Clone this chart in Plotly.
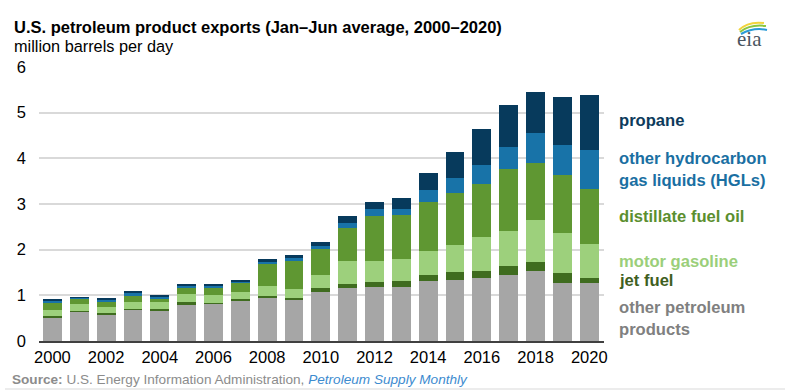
import plotly.graph_objects as go

years = list(range(2000, 2021))
other_petroleum = [0.51, 0.64, 0.59, 0.69, 0.66, 0.79, 0.82, 0.89, 0.95, 0.89, 1.07,
                   1.16, 1.19, 1.18, 1.31, 1.34, 1.37, 1.45, 1.53, 1.26, 1.26]
jet_fuel = [0.03, 0.02, 0.02, 0.02, 0.03, 0.06, 0.02, 0.03, 0.04, 0.06, 0.08,
            0.08, 0.10, 0.14, 0.14, 0.18, 0.17, 0.19, 0.21, 0.22, 0.12]
motor_gasoline = [0.14, 0.15, 0.14, 0.15, 0.16, 0.18, 0.16, 0.15, 0.22, 0.19, 0.30,
                  0.51, 0.46, 0.48, 0.52, 0.59, 0.74, 0.77, 0.91, 0.88, 0.75]
distillate = [0.15, 0.11, 0.11, 0.13, 0.09, 0.15, 0.16, 0.19, 0.47, 0.61, 0.56,
              0.72, 0.99, 0.96, 1.08, 1.13, 1.16, 1.36, 1.24, 1.27, 1.20]
other_hgl = [0.06, 0.03, 0.05, 0.07, 0.04, 0.03, 0.05, 0.05, 0.05, 0.06, 0.06,
             0.12, 0.15, 0.13, 0.26, 0.33, 0.41, 0.48, 0.66, 0.67, 0.85]
propane = [0.02, 0.01, 0.02, 0.02, 0.02, 0.02, 0.02, 0.03, 0.07, 0.07, 0.09,
           0.14, 0.16, 0.24, 0.37, 0.56, 0.79, 0.92, 0.90, 1.04, 1.21]

series_names = ["other petroleum products", "jet fuel", "motor gasoline",
                "distillate fuel oil", "other hydrocarbon gas liquids (HGLs)", "propane"]
series_values = [other_petroleum, jet_fuel, motor_gasoline, distillate, other_hgl, propane]
bar_colors = ["#a6a6a6", "#3f6c1f", "#9dd07c", "#5f9732", "#1873a8", "#073a5c"]

legend_labels = ["other petroleum<br>products", "jet fuel", "motor gasoline",
                 "distillate fuel oil", "other hydrocarbon<br>gas liquids (HGLs)", "propane"]
label_colors = ["#808080", "#3f5f1f", "#9bcf7a", "#5b8f2f", "#1a6fa2", "#0d3b5c"]
label_y = [318.5, 280, 261, 216.5, 169.5, 120.5]  # pixel positions of label centers

FONT = "Liberation Sans, Arial, sans-serif"

fig = go.Figure()
for name, vals, col in zip(series_names, series_values, bar_colors):
    fig.add_trace(go.Bar(x=years, y=vals, name=name, marker_color=col,
                         marker_line_width=0, hoverinfo="x+y+name"))

L, R, T, B = 39, 186, 67, 50
W, H = 790, 391
pw, ph = W - L - R, H - T - B

def px_to_paper(px, py):
    return (px - L) / pw, (H - B - py) / ph

annotations = []
for lab, col, py in zip(legend_labels, label_colors, label_y):
    xp, yp = px_to_paper(617, py)
    annotations.append(dict(text="<b>" + lab + "</b>", x=xp, y=yp, xref="paper", yref="paper",
                            xanchor="left", yanchor="middle", showarrow=False, align="left",
                            font=dict(family=FONT, size=16.6, color=col)))

# title, subtitle
xp, yp = px_to_paper(12, 27)
annotations.append(dict(text="<b>U.S. petroleum product exports (Jan–Jun average, 2000–2020)</b>",
                        x=xp, y=yp, xref="paper", yref="paper", xanchor="left", yanchor="middle",
                        showarrow=False, font=dict(family=FONT, size=16.5, color="#000000")))
xp, yp = px_to_paper(12, 46)
annotations.append(dict(text="million barrels per day",
                        x=xp, y=yp, xref="paper", yref="paper", xanchor="left", yanchor="middle",
                        showarrow=False, font=dict(family=FONT, size=16.3, color="#000000")))
# source
xp, yp = px_to_paper(10, 379)
annotations.append(dict(text="<b>Source:</b> U.S. Energy Information Administration, "
                             "<i><span style='color:#3d8bcf'>Petroleum Supply Monthly</span></i>",
                        x=xp, y=yp, xref="paper", yref="paper", xanchor="left", yanchor="middle",
                        showarrow=False, font=dict(family=FONT, size=13.6, color="#8c8c8c")))
# eia logo text
xp, yp = px_to_paper(749, 39)
annotations.append(dict(text="eia", x=xp, y=yp, xref="paper", yref="paper",
                        xanchor="center", yanchor="middle", showarrow=False,
                        font=dict(family="Liberation Serif, DejaVu Serif, serif", size=21,
                                  color="#4a5560")))

shapes = []
def arc(p0, c, p1, color, w):
    x0, y0 = px_to_paper(*p0)
    xc, yc = px_to_paper(*c)
    x1, y1 = px_to_paper(*p1)
    return dict(type="path", xref="paper", yref="paper",
                path=f"M {x0},{y0} Q {xc},{yc} {x1},{y1}",
                line=dict(color=color, width=w))
shapes.append(arc((739, 30), (748, 21), (764, 23), "#f2d43c", 2))
shapes.append(arc((740, 32), (750, 24), (766, 26), "#8cc63f", 2))
shapes.append(arc((741, 34), (754, 27), (767, 30), "#2a9bd6", 2))
# bottom rule
x0, y0 = px_to_paper(5, 389)
x1, _ = px_to_paper(785, 389)
shapes.append(dict(type="line", xref="paper", yref="paper", x0=x0, x1=x1, y0=y0, y1=y0,
                   line=dict(color="#d9d9d9", width=1)))

fig.update_layout(
    barmode="stack",
    bargap=0.3,
    width=W, height=H,
    margin=dict(l=L, r=R, t=T, b=B, pad=0),
    paper_bgcolor="white", plot_bgcolor="white",
    showlegend=False,
    font=dict(family=FONT, size=16.5, color="#000000"),
    annotations=annotations,
    shapes=shapes,
    xaxis=dict(range=[1999.5, 2020.55], tickmode="linear", tick0=2000, dtick=2,
               showgrid=False, zeroline=False, showline=True, linecolor="#404040", linewidth=2,
               ticks="", tickfont=dict(family=FONT, size=16.5, color="#000000"),
               fixedrange=True),
    yaxis=dict(range=[0, 6], tickmode="linear", tick0=0, dtick=1,
               showgrid=True, gridcolor="#d9d9d9", gridwidth=1.5, zeroline=False,
               showline=False, ticks="", ticklabelstandoff=12,
               tickfont=dict(family=FONT, size=16.5, color="#000000"), fixedrange=True),
)

fig.write_html("out.html", config={"displayModeBar": False},
               post_script="document.body.style.margin='0';document.body.style.overflow='hidden';")
